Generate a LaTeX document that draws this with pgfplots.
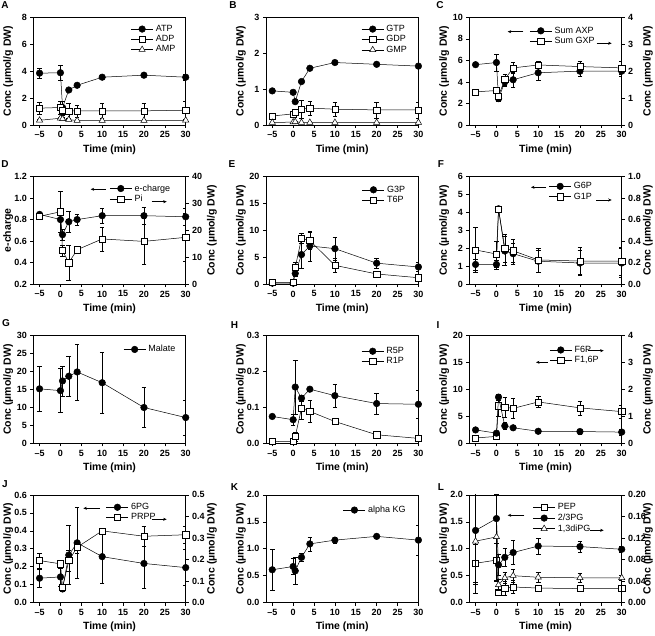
\documentclass[border=0pt]{standalone}
\usepackage{fontspec}
\setmainfont{Liberation Sans}[BoldFont={Liberation Sans Bold}]
\usepackage{pgfplots}
\pgfplotsset{compat=1.18}
\usetikzlibrary{arrows.meta}
\newcommand{\lf}{\fontsize{10.5}{12}\selectfont\bfseries}
\newcommand{\tf}{\fontsize{9}{10}\selectfont\bfseries}
\pgfplotsset{
  base/.style={
    scale only axis, width=152.4pt, height=107.7pt, anchor=south west,
    xmin=-6.5, xmax=30,
    xtick={-5,0,5,10,15,20,25,30},
    xticklabels={–5,0,5,10,15,20,25,30},
    tick align=outside, major tick length=3pt,
    every tick/.style={black, line width=0.6pt},
    axis line style={line width=0.6pt},
    /pgf/number format/assume math mode=true,
    tick label style={font=\tf},
    every axis y label/.style={at={(axis description cs:-0.165,0.5)}, rotate=90, anchor=center, font=\lf},
    every axis x label/.style={at={(axis description cs:0.5,-0.226)}, anchor=center, font=\lf},
    xlabel={Time (min)},
    legend cell align=left,
    legend style={draw=none, fill=none, inner sep=0pt, row sep=1.6pt, column sep=2pt,
      font=\fontsize{9}{10}\selectfont,
      nodes={inner sep=0.5pt}},
    legend image code/.code={\draw[solid, draw opacity=0, fill opacity=0, line width=0.1pt] (0pt,-3.5pt) rectangle (22pt,3.5pt);
      \draw[mark repeat=2,mark phase=2] plot coordinates {(0pt,0pt) (11pt,0pt) (22pt,0pt)};},
  },
  single/.style={base, tick pos=left},
  leftax/.style={base, tick pos=left},
  rightax/.style={base, axis y line*=right, axis x line=none, xlabel={}},
  eb/.style={error bars/y dir=both, error bars/y explicit,
    error bars/error bar style={line width=0.5pt, black},
    error bars/error mark options={rotate=90, mark size=2.3pt, line width=0.5pt, black}},
  fc/.style={black, line width=0.5pt, mark=*, mark size=3.3pt, mark options={solid, fill=black, draw=black}},
  os/.style={black, line width=0.5pt, mark=square*, mark size=3.1pt, mark options={solid, fill=white, draw=black}},
  ot/.style={black, line width=0.5pt, mark=triangle*, mark size=3.6pt, mark options={solid, fill=white, draw=black}},
  f1/.style={yticklabel style={/pgf/number format/.cd, fixed, fixed zerofill, precision=1}},
  f2/.style={yticklabel style={/pgf/number format/.cd, fixed, fixed zerofill, precision=2}},
}
\tikzset{arr/.style={-{Stealth[length=3.5pt,width=3pt]}, line width=0.5pt},
  rl/.style={rotate=90, font=\lf, anchor=center}}
\begin{document}
\begin{tikzpicture}
\useasboundingbox (0,0) rectangle (655pt,636pt);
% ---------------- A
\begin{axis}[single, at={(33.3pt,511pt)}, ymin=0, ymax=8, ytick={0,2,4,6,8},
  ylabel={Conc (µmol/g DW)}, legend style={at={(0.639,0.933)}, anchor=north west}]
\addplot[fc,eb] coordinates {(-5,3.85) +- (0,0.4) (0,3.88) +- (0,0.55) (0.5,1.3) +- (0,0.5) (2,2.6) +- (0,0.1) (4,2.95) +- (0,0.1) (10,3.55) +- (0,0.1) (20,3.7) +- (0,0.15) (30,3.55) +- (0,0.2)};
\addlegendentry{ATP}
\addplot[os,eb] coordinates {(-5,1.25) +- (0,0.45) (0,1.3) +- (0,0.5) (0.5,1.1) +- (0,0.4) (2,1.05) +- (0,0.55) (4,1.05) +- (0,0.45) (10,1.05) +- (0,0.55) (20,1.05) +- (0,0.6) (30,1.1) +- (0,0.65)};
\addlegendentry{ADP}
\addplot[ot,eb] coordinates {(-5,0.35) +- (0,0.05) (0,0.5) +- (0,0.1) (0.5,0.45) +- (0,0.1) (2,0.4) +- (0,0.05) (4,0.33) +- (0,0.05) (10,0.33) +- (0,0.03) (20,0.33) +- (0,0.03) (30,0.35) +- (0,0.03)};
\addlegendentry{AMP}
\end{axis}
% ---------------- B
\begin{axis}[single, at={(266pt,511pt)}, ymin=0, ymax=3, ytick={0,1,2,3},
  ylabel={Conc (µmol/g DW)}, legend style={at={(0.625,0.933)}, anchor=north west}]
\addplot[fc,eb] coordinates {(-5,0.95) +- (0,0.03) (0,0.91) +- (0,0.03) (0.5,0.65) +- (0,0.05) (2,1.21) +- (0,0.03) (4,1.58) +- (0,0.03) (10,1.74) +- (0,0.03) (20,1.69) +- (0,0.03) (30,1.64) +- (0,0.03)};
\addlegendentry{GTP}
\addplot[os,eb] coordinates {(-5,0.25) +- (0,0.03) (0,0.31) +- (0,0.03) (0.5,0.35) +- (0,0.05) (2,0.44) +- (0,0.25) (4,0.47) +- (0,0.2) (10,0.44) +- (0,0.2) (20,0.42) +- (0,0.22) (30,0.42) +- (0,0.22)};
\addlegendentry{GDP}
\addplot[ot,eb] coordinates {(-5,0.07) +- (0,0.01) (0,0.08) +- (0,0.01) (0.5,0.09) +- (0,0.01) (2,0.07) +- (0,0.01) (4,0.07) +- (0,0.01) (10,0.07) +- (0,0.01) (20,0.07) +- (0,0.01) (30,0.07) +- (0,0.01)};
\addlegendentry{GMP}
\end{axis}
% ---------------- C
\begin{axis}[leftax, at={(469.3pt,511pt)}, ymin=0, ymax=10, ytick={0,2,4,6,8,10},
  ylabel={Conc (µmol/g DW)}]
\addplot[fc,eb] coordinates {(-5,5.6) +- (0,0.1) (0,5.8) +- (0,0.8) (0.5,2.45) +- (0,0.2) (2,4.0) +- (0,0.4) (4,4.2) +- (0,0.7) (10,4.85) +- (0,0.7) (20,5.0) +- (0,0.5) (30,5.0) +- (0,0.5)};
\end{axis}
\begin{axis}[rightax, at={(469.3pt,511pt)}, ymin=0, ymax=4, ytick={0,1,2,3,4},
  legend style={at={(0.394,0.917)}, anchor=north west}]
\addlegendimage{fc}\addlegendentry{Sum AXP}
\addplot[os,eb] coordinates {(-5,1.23) +- (0,0.03) (0,1.28) +- (0,0.05) (0.5,1.08) +- (0,0.1) (2,1.69) +- (0,0.2) (4,2.12) +- (0,0.2) (10,2.23) +- (0,0.12) (20,2.17) +- (0,0.2) (30,2.12) +- (0,0.25)};
\addlegendentry{Sum GXP}
\end{axis}
% ---------------- D
\begin{axis}[leftax, f1, at={(33.3pt,351.8pt)}, ymin=0.2, ymax=1.2, ytick={0.2,0.4,0.6,0.8,1.0,1.2},
  ylabel={e-charge}]
\addplot[fc,eb] coordinates {(-5,0.848) +- (0,0.01) (0,0.80) +- (0,0.02) (0.5,0.66) +- (0,0.05) (2,0.78) +- (0,0.1) (4,0.80) +- (0,0.05) (10,0.836) +- (0,0.07) (20,0.836) +- (0,0.08) (30,0.826) +- (0,0.08)};
\end{axis}
\begin{axis}[rightax, at={(33.3pt,351.8pt)}, ymin=0, ymax=40, ytick={0,10,20,30,40},
  legend style={at={(0.499,0.932)}, anchor=north west}]
\addlegendimage{fc}\addlegendentry{e-charge}
\addplot[os,eb] coordinates {(-5,25.2) +- (0,1) (0,26.9) +- (0,7.5) (0.5,12.5) +- (0,2) (2,8.0) +- (0,6.5) (4,12.8) +- (0,0.5) (10,16.8) +- (0,4.5) (20,15.9) +- (0,8.5) (30,17.4) +- (0,9)};
\addlegendentry{Pi}
\end{axis}
% ---------------- E
\begin{axis}[single, at={(266pt,351.8pt)}, ymin=0, ymax=20, ytick={0,5,10,15,20},
  ylabel={Conc (µmol/g DW)}, legend style={at={(0.63,0.919)}, anchor=north west}]
\addplot[fc,eb] coordinates {(-5,0.2) +- (0,0.05) (0,0.2) +- (0,0.05) (0.5,2.0) +- (0,0.5) (2,5.5) +- (0,2.5) (4,7.1) +- (0,2.8) (10,6.6) +- (0,2.1) (20,3.9) +- (0,1) (30,3.2) +- (0,0.8)};
\addlegendentry{G3P}
\addplot[os,eb] coordinates {(-5,0.3) +- (0,0.05) (0,0.3) +- (0,0.05) (0.5,3.1) +- (0,0.9) (2,8.5) +- (0,0.9) (4,8.1) +- (0,1.6) (10,3.5) +- (0,1.3) (20,1.9) +- (0,0.3) (30,1.2) +- (0,0.4)};
\addlegendentry{T6P}
\end{axis}
% ---------------- F
\begin{axis}[leftax, at={(469.3pt,351.8pt)}, ymin=0, ymax=6, ytick={0,1,2,3,4,5,6},
  ylabel={Conc (µmol/g DW)}]
\addplot[fc,eb] coordinates {(-5,1.1) +- (0,0.3) (0,1.1) +- (0,0.25) (0.5,4.2) +- (0,0.1) (2,1.85) +- (0,0.8) (4,1.7) +- (0,0.6) (10,1.28) +- (0,0.6) (20,1.18) +- (0,0.7) (30,1.18) +- (0,0.8)};
\end{axis}
\begin{axis}[rightax, f1, at={(469.3pt,351.8pt)}, ymin=0, ymax=1, ytick={0,0.2,0.4,0.6,0.8,1.0},
  legend style={at={(0.521,0.951)}, anchor=north west}]
\addlegendimage{fc}\addlegendentry{G6P}
\addplot[os,eb] coordinates {(-5,0.318) +- (0,0.21) (0,0.28) +- (0,0.12) (0.5,0.695) +- (0,0.01) (2,0.335) +- (0,0.13) (4,0.31) +- (0,0.11) (10,0.225) +- (0,0.11) (20,0.215) +- (0,0.125) (30,0.215) +- (0,0.13)};
\addlegendentry{G1P}
\end{axis}
% ---------------- G
\begin{axis}[single, at={(33.3pt,192.6pt)}, ymin=0, ymax=30, ytick={0,5,10,15,20,25,30},
  ylabel={Conc (µmol/g DW)}, legend style={at={(0.59,0.916)}, anchor=north west}]
\addplot[fc,eb] coordinates {(-5,15.2) +- (0,6.2) (0,14.7) +- (0,6.1) (0.5,17.4) +- (0,4.2) (2,18.7) +- (0,5.5) (4,19.9) +- (0,7.8) (10,16.9) +- (0,8.4) (20,10.0) +- (0,5.6) (30,7.2) +- (0,4.9)};
\addlegendentry{Malate}
\end{axis}
% ---------------- H
\begin{axis}[single, f1, at={(266pt,192.6pt)}, ymin=0, ymax=0.3, ytick={0,0.1,0.2,0.3},
  ylabel={Conc (µmol/g DW)}, legend style={at={(0.625,0.898)}, anchor=north west}]
\addplot[fc,eb] coordinates {(-5,0.075) +- (0,0.003) (0,0.066) +- (0,0.015) (0.5,0.157) +- (0,0.075) (2,0.126) +- (0,0.008) (4,0.151) +- (0,0.005) (10,0.133) +- (0,0.033) (20,0.111) +- (0,0.03) (30,0.109) +- (0,0.04)};
\addlegendentry{R5P}
\addplot[os,eb] coordinates {(-5,0.005) +- (0,0.001) (0,0.006) +- (0,0.001) (0.5,0.019) +- (0,0.012) (2,0.098) +- (0,0.032) (4,0.089) +- (0,0.03) (10,0.061) +- (0,0.003) (20,0.024) +- (0,0.002) (30,0.014) +- (0,0.002)};
\addlegendentry{R1P}
\end{axis}
% ---------------- I
\begin{axis}[leftax, at={(469.3pt,192.6pt)}, ymin=0, ymax=20, ytick={0,5,10,15,20},
  ylabel={Conc (µmol/g DW)}]
\addplot[os,eb] coordinates {(-5,1.0) +- (0,0.1) (0,1.3) +- (0,0.2) (0.5,7.0) +- (0,2) (2,6.7) +- (0,1.8) (4,6.5) +- (0,1.8) (10,7.7) +- (0,1.0) (20,6.6) +- (0,1.3) (30,5.9) +- (0,1.2)};
\end{axis}
\begin{axis}[rightax, at={(469.3pt,192.6pt)}, ymin=0, ymax=4, ytick={0,1,2,3,4},
  legend style={at={(0.525,0.91)}, anchor=north west}]
\addplot[fc,eb] coordinates {(-5,0.5) +- (0,0.05) (0,0.38) +- (0,0.02) (0.5,1.72) +- (0,0.12) (2,0.65) +- (0,0.12) (4,0.58) +- (0,0.04) (10,0.45) +- (0,0.04) (20,0.44) +- (0,0.09) (30,0.42) +- (0,0.1)};
\addlegendentry{F6P}
\addlegendimage{os}\addlegendentry{F1,6P}
\end{axis}
% ---------------- J
\begin{axis}[leftax, f1, at={(33.3pt,33.4pt)}, ymin=0, ymax=0.6, ytick={0,0.1,0.2,0.3,0.4,0.5,0.6},
  ylabel={Conc (µmol/g DW)}]
\addplot[fc,eb] coordinates {(-5,0.136) +- (0,0.05) (0,0.143) +- (0,0.05) (0.5,0.076) +- (0,0.01) (2,0.265) +- (0,0.165) (4,0.333) +- (0,0.2) (10,0.256) +- (0,0.15) (20,0.218) +- (0,0.14) (30,0.195) +- (0,0.1)};
\end{axis}
\begin{axis}[rightax, f1, at={(33.3pt,33.4pt)}, ymin=0, ymax=0.5, ytick={0,0.1,0.2,0.3,0.4,0.5},
  legend style={at={(0.477,0.928)}, anchor=north west}]
\addlegendimage{fc}\addlegendentry{6PG}
\addplot[os,eb] coordinates {(-5,0.195) +- (0,0.035) (0,0.18) +- (0,0.01) (0.5,0.07) +- (0,0.01) (2,0.195) +- (0,0.05) (4,0.257) +- (0,0.03) (10,0.333) +- (0,0.01) (20,0.308) +- (0,0.045) (30,0.315) +- (0,0.04)};
\addlegendentry{PRPP}
\end{axis}
% ---------------- K
\begin{axis}[single, f1, at={(266pt,33.4pt)}, ymin=0, ymax=2, ytick={0,0.5,1.0,1.5,2.0},
  ylabel={Conc (µmol/g DW)}, legend style={at={(0.505,0.903)}, anchor=north west}]
\addplot[fc,eb] coordinates {(-5,0.61) +- (0,0.38) (0,0.67) +- (0,0.15) (0.5,0.59) +- (0,0.25) (2,0.84) +- (0,0.08) (4,1.09) +- (0,0.13) (10,1.16) +- (0,0.06) (20,1.23) +- (0,0.02) (30,1.16) +- (0,0.28)};
\addlegendentry{alpha KG}
\end{axis}
% ---------------- L
\begin{axis}[leftax, f1, at={(469.3pt,33.4pt)}, ymin=0, ymax=2, ytick={0,0.5,1.0,1.5,2.0},
  ylabel={Conc (µmol/g DW)}]
\addplot[os,eb] coordinates {(-5,0.73) +- (0,0.35) (0,0.79) +- (0,0.4) (0.5,0.19) +- (0,0.05) (2,0.26) +- (0,0.13) (4,0.29) +- (0,0.12) (10,0.27) +- (0,0.05) (20,0.26) +- (0,0.03) (30,0.26) +- (0,0.02)};
\addplot[fc,eb] coordinates {(-5,1.34) +- (0,1.0) (0,1.56) +- (0,0.45) (0.5,0.7) +- (0,0.2) (2,0.84) +- (0,0.17) (4,0.93) +- (0,0.22) (10,1.05) +- (0,0.15) (20,1.04) +- (0,0.1) (30,0.99) +- (0,0.05)};
\end{axis}
\begin{axis}[rightax, f2, at={(469.3pt,33.4pt)}, ymin=0, ymax=0.2, ytick={0,0.04,0.08,0.12,0.16,0.2},
  legend style={at={(0.416,0.924)}, anchor=north west}]
\addlegendimage{os}\addlegendentry{PEP}
\addlegendimage{fc}\addlegendentry{2/3PG}
\addplot[ot,eb] coordinates {(-5,0.114) +- (0,0.097) (0,0.122) +- (0,0.08) (0.5,0.033) +- (0,0.01) (2,0.046) +- (0,0.01) (4,0.05) +- (0,0.012) (10,0.047) +- (0,0.01) (20,0.046) +- (0,0.008) (30,0.046) +- (0,0.005)};
\addlegendentry{1,3diPG}
\end{axis}
% ---------------- right axis labels
\node[rl] at (648pt,564.85pt) {Conc (µmol/g DW)};
\node[rl] at (212pt,405.65pt) {Conc (µmol/g DW)};
\node[rl] at (648pt,405.65pt) {Conc (µmol/g DW)};
\node[rl] at (648pt,246.45pt) {Conc (µmol/g DW)};
\node[rl] at (212pt,87.25pt) {Conc (µmol/g DW)};
\node[rl] at (648pt,87.25pt) {Conc (µmol/g DW)};
% ---------------- axis arrows
\draw[arr] (523.3pt,604.3pt) -- (507.7pt,604.3pt);
\draw[arr] (596.7pt,592.7pt) -- (611.7pt,592.7pt);
\draw[arr] (106pt,446.7pt) -- (90.7pt,446.7pt);
\draw[arr] (151.7pt,434.3pt) -- (166.7pt,434.3pt);
\draw[arr] (546pt,448.7pt) -- (531pt,448.7pt);
\draw[arr] (596pt,436pt) -- (611.7pt,436pt);
\draw[arr] (588.3pt,285.3pt) -- (603.7pt,285.3pt);
\draw[arr] (547.7pt,273.7pt) -- (536pt,273.7pt);
\draw[arr] (100pt,127.7pt) -- (83.3pt,127.7pt);
\draw[arr] (151.7pt,116.7pt) -- (166.7pt,116.7pt);
\draw[arr] (524.3pt,120.7pt) -- (507.7pt,120.7pt);
\draw[arr] (590pt,105.7pt) -- (603.7pt,105.7pt);
% ---------------- panel letters
\begin{scope}[every node/.style={font=\fontsize{10}{12}\selectfont\bfseries, inner sep=0pt}]
\node at (5pt,631pt) {A};
\node at (233pt,631pt) {B};
\node at (440pt,631pt) {C};
\node at (5pt,472pt) {D};
\node at (232pt,472pt) {E};
\node at (441pt,472pt) {F};
\node at (6pt,312.5pt) {G};
\node at (234.5pt,311pt) {H};
\node at (438pt,311pt) {I};
\node at (5pt,152pt) {J};
\node at (234.5pt,149pt) {K};
\node at (441pt,149pt) {L};
\end{scope}
\end{tikzpicture}
\end{document}
